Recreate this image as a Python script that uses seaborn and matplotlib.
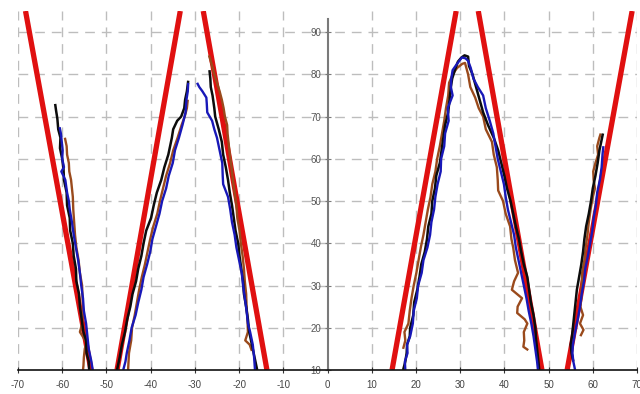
import numpy as np
import pandas as pd
import matplotlib
matplotlib.use("Agg")
import matplotlib.pyplot as plt
import seaborn as sns

# ---------------- data (x, y) ----------------
x_ticks = [-70, -60, -50, -40, -30, -20, -10, 0, 10, 20, 30, 40, 50, 60, 70]
y_ticks = [10, 20, 30, 40, 50, 60, 70, 80, 90]

# red reference lines: segment endpoints
red_1 = [(-68.3, 95), (-53.5, 10)]
red_2 = [(-47.6, 10), (-33.3, 95)]
red_3 = [(-28.1, 95), (-13.7, 10)]
red_4 = [(14.6, 10), (29.1, 95)]
red_5 = [(34.1, 95), (48.5, 10)]
red_6 = [(54.2, 10), (68.9, 95)]

black_a = [(-61.6, 73), (-61.4, 71.5), (-61.1, 69.5), (-60.9, 67), (-60.4, 65), (-60.5, 62.5),
           (-60.0, 60), (-59.7, 57.5), (-59.6, 55), (-59.0, 52), (-58.9, 49), (-58.3, 46),
           (-58.2, 43), (-57.6, 40), (-57.4, 37), (-56.9, 34), (-56.8, 31), (-56.2, 28),
           (-56.0, 25), (-55.6, 22), (-55.2, 19), (-54.6, 17), (-54.5, 14), (-54.0, 12), (-53.9, 10)]
black_b = [(-47.6, 10), (-47.0, 13), (-46.5, 16), (-45.8, 19), (-45.3, 22), (-44.6, 25),
           (-44.1, 28), (-43.3, 31), (-42.8, 34), (-42.1, 37), (-41.6, 40), (-41.0, 43),
           (-39.9, 46), (-39.3, 49), (-38.6, 52), (-37.6, 55), (-36.9, 58), (-36.0, 61),
           (-35.6, 63), (-35.2, 65), (-34.9, 67), (-34.0, 69), (-33.1, 70), (-32.4, 72),
           (-32.2, 74), (-31.8, 76), (-31.5, 78.5)]
black_c = [(-26.7, 81), (-26.5, 79), (-26.4, 77), (-26.0, 75), (-25.6, 72), (-25.4, 70),
           (-24.6, 67), (-23.9, 64), (-23.6, 61), (-23.0, 58), (-22.5, 55), (-22.1, 52),
           (-21.6, 49), (-21.2, 46), (-20.8, 43), (-20.2, 40), (-19.9, 37), (-19.5, 34),
           (-19.1, 31), (-18.9, 28), (-18.4, 25), (-18.0, 22), (-17.7, 19), (-17.1, 16),
           (-16.5, 13), (-15.9, 10)]
black_d = [(17.1, 10), (17.6, 12), (17.9, 14), (18.0, 16), (18.6, 18), (18.7, 20), (19.4, 23),
           (19.6, 26), (20.3, 29), (20.8, 32), (21.2, 35), (22.0, 38), (22.5, 41), (22.8, 44),
           (23.5, 47), (23.7, 50), (24.3, 53), (24.6, 56), (25.4, 59), (25.8, 62), (26.2, 65),
           (26.6, 68), (27.3, 71), (27.6, 74), (27.9, 77), (28.2, 79), (28.8, 81), (29.5, 83),
           (30.3, 84), (31.0, 84.5), (31.8, 84.2), (32.0, 82), (32.8, 80), (33.6, 77),
           (34.4, 74), (35.2, 71), (36.3, 68), (37.6, 65), (38.6, 62), (39.3, 59), (40.0, 56),
           (40.6, 53), (41.4, 50), (42.0, 47), (42.6, 44), (43.3, 41), (43.8, 38), (44.4, 35),
           (45.2, 32), (45.6, 29), (46.0, 26), (46.6, 23), (47.0, 20), (47.2, 17), (47.5, 14),
           (47.7, 12), (47.9, 10)]
black_f = [(55.6, 12), (55.2, 14), (55.0, 16), (55.3, 18), (55.5, 20), (55.8, 23), (56.1, 26),
           (56.4, 29), (56.9, 32), (57.4, 35), (57.8, 38), (58.1, 41), (58.5, 44), (59.1, 47),
           (59.6, 50), (60.0, 53), (60.6, 56), (61.1, 59), (61.5, 62), (61.9, 64), (62.3, 66)]

blue_a = [(-60.6, 67.5), (-60.3, 66), (-60.1, 64), (-59.9, 62), (-60.0, 60), (-59.6, 58),
          (-60.2, 57), (-59.3, 55), (-58.9, 52), (-58.5, 50), (-58.3, 48), (-57.8, 45),
          (-57.4, 42), (-56.9, 39), (-56.4, 36), (-56.0, 33), (-55.7, 30), (-55.3, 27),
          (-55.1, 24), (-54.6, 21), (-54.3, 18), (-54.0, 15), (-53.4, 12), (-53.1, 10)]
blue_b = [(-46.2, 10), (-45.7, 12), (-45.4, 14), (-44.8, 17), (-44.3, 20), (-43.4, 23),
          (-42.8, 26), (-42.1, 29), (-41.6, 32), (-40.8, 35), (-40.1, 38), (-39.6, 41),
          (-38.8, 44), (-38.0, 47), (-37.4, 50), (-36.5, 53), (-35.9, 56), (-35.0, 59),
          (-34.5, 62), (-33.6, 65), (-32.8, 68), (-32.1, 71), (-31.9, 74), (-31.6, 76), (-31.5, 78)]
blue_c = [(-29.5, 78), (-29.0, 77), (-28.3, 76), (-27.4, 74.5), (-27.3, 73), (-27.2, 71),
          (-26.1, 69), (-25.6, 67), (-25.0, 65), (-24.4, 62), (-23.8, 59), (-23.7, 56),
          (-23.6, 54), (-22.5, 51), (-22.0, 48), (-21.6, 45), (-21.0, 42), (-20.6, 39),
          (-20.0, 36), (-19.4, 33), (-19.1, 30), (-18.7, 27), (-18.3, 24), (-18.0, 21),
          (-17.5, 19), (-16.9, 16), (-16.6, 13), (-16.4, 10)]
blue_d = [(17.6, 10), (17.5, 12), (18.1, 14), (18.0, 16), (18.7, 18), (19.3, 21), (19.5, 24),
          (20.2, 27), (20.5, 30), (21.3, 33), (21.7, 36), (22.6, 39), (23.2, 42), (23.5, 45),
          (24.1, 48), (24.4, 51), (24.9, 54), (25.6, 57), (25.7, 60), (26.4, 63), (26.6, 66),
          (27.4, 69), (27.2, 72), (28.3, 75), (27.9, 77), (28.0, 79), (28.3, 81), (29.3, 82.5),
          (30.4, 84), (31.2, 83.8), (31.8, 83.2), (32.4, 81.5), (33.0, 79), (34.0, 77),
          (35.2, 75), (35.8, 72), (36.7, 69), (37.5, 66), (38.0, 63), (38.5, 60), (39.2, 57),
          (39.9, 54), (40.3, 51), (40.8, 48), (41.5, 45), (42.2, 42), (42.6, 39), (43.2, 36),
          (43.8, 33), (44.4, 30), (45.0, 27), (45.5, 24), (46.1, 21), (46.6, 18), (47.0, 15),
          (47.4, 12), (47.6, 10)]
blue_f = [(56.0, 10), (55.6, 12), (55.4, 14), (55.5, 16), (56.0, 19), (56.6, 22), (57.1, 25),
          (57.5, 28), (58.0, 31), (58.3, 34), (58.9, 37), (59.4, 40), (59.9, 43), (60.2, 46),
          (60.7, 49), (61.0, 52), (61.6, 55), (62.0, 58), (62.2, 61), (62.4, 63)]

brown_a = [(-59.4, 65), (-59.0, 63), (-58.9, 61), (-58.5, 59), (-58.4, 57), (-58.0, 55),
           (-57.8, 53), (-57.6, 51), (-57.5, 48), (-57.3, 45), (-57.1, 42), (-56.8, 39),
           (-56.3, 36), (-56.0, 33), (-55.5, 30), (-55.4, 27), (-55.3, 24), (-55.5, 21),
           (-56.0, 19), (-55.4, 18), (-54.5, 16.5), (-54.9, 15), (-55.1, 13), (-55.2, 11), (-55.3, 10)]
brown_b = [(-45.1, 10), (-45.0, 12), (-44.9, 14), (-44.4, 17), (-44.2, 20), (-43.6, 23),
           (-43.1, 26), (-42.6, 29), (-42.0, 32), (-41.3, 35), (-40.7, 38), (-40.1, 41),
           (-39.4, 44), (-38.5, 47), (-37.9, 50), (-37.2, 53), (-36.5, 56), (-35.6, 59),
           (-34.9, 62), (-33.9, 65), (-33.0, 68), (-32.3, 70), (-31.8, 72), (-31.6, 74)]
brown_c = [(-26.8, 84.5), (-26.1, 82), (-25.6, 80), (-25.0, 78), (-24.4, 76), (-23.9, 74),
           (-23.5, 72), (-23.2, 70), (-22.7, 68), (-22.6, 66), (-22.4, 64), (-22.1, 61),
           (-21.7, 58), (-21.4, 55), (-21.0, 52), (-20.6, 49), (-20.4, 46), (-19.9, 43),
           (-19.6, 40), (-19.2, 37), (-18.9, 34), (-18.7, 31), (-18.4, 28), (-18.3, 25),
           (-18.1, 22), (-18.0, 19), (-18.6, 17), (-17.6, 16), (-17.1, 14.5)]
brown_d = [(17.1, 15), (17.6, 17), (17.4, 19), (18.3, 21), (18.6, 24), (19.0, 27), (19.5, 30),
           (20.1, 33), (20.6, 36), (21.1, 39), (21.7, 42), (22.2, 45), (22.7, 48), (23.3, 51),
           (23.7, 54), (24.4, 57), (24.8, 60), (25.4, 63), (25.9, 66), (26.4, 69), (26.8, 72),
           (27.3, 75), (27.5, 78), (28.3, 80), (29.3, 81.5), (30.5, 82.5), (31.1, 82.7),
           (31.8, 80), (32.3, 77), (33.4, 74.5), (34.2, 72), (35.2, 70), (35.8, 67), (37.2, 64),
           (37.6, 61), (38.3, 58), (38.5, 55), (38.6, 52.5), (39.7, 50), (40.3, 47), (41.3, 44),
           (41.6, 41), (42.0, 39), (42.4, 36), (43.1, 33), (42.2, 31), (41.7, 29), (44.0, 27),
           (43.0, 25), (42.9, 23.5), (44.6, 22), (45.2, 21), (44.4, 19), (44.5, 17), (44.3, 15.5),
           (45.4, 14.7)]
brown_f = [(57.2, 18), (57.9, 19.5), (57.1, 21), (57.8, 23), (57.2, 25), (57.4, 27), (57.5, 30),
           (57.6, 33), (58.1, 36), (58.4, 39), (58.8, 42), (59.1, 45), (59.5, 48), (60.0, 51),
           (60.5, 53), (60.2, 55), (60.1, 57), (60.6, 59), (61.2, 61), (61.0, 63), (61.5, 65),
           (61.8, 66)]

series = {
    "red": [red_1, red_2, red_3, red_4, red_5, red_6],
    "brown": [brown_a, brown_b, brown_c, brown_d, brown_f],
    "black": [black_a, black_b, black_c, black_d, black_f],
    "blue": [blue_a, blue_b, blue_c, blue_d, blue_f],
}
colors = {"red": "#e01010", "brown": "#9a4a1c", "black": "#0c0c0c", "blue": "#1818b8"}
widths = {"red": 3.8, "brown": 1.7, "black": 1.8, "blue": 1.7}


def to_frame(segs):
    rows = []
    for i, seg in enumerate(segs):
        for k, (x, y) in enumerate(seg):
            rows.append({"x": x, "y": y, "seg": i, "order": k})
    return pd.DataFrame(rows)


sns.set_style("white")
plt.rcParams["font.family"] = ["Liberation Sans", "DejaVu Sans"]
plt.rcParams["axes.unicode_minus"] = False

fig = plt.figure(figsize=(6.4, 3.94), dpi=100)
ax = fig.add_axes([18 / 640, 24 / 394, 619 / 640, 359 / 394])

# grid lines
for gx in x_ticks:
    if gx != 0:
        ax.axvline(gx, color="#bdbdbd", lw=1.0, ls=(0, (7, 5)), zorder=0)
for gy in y_ticks[1:]:
    ax.axhline(gy, color="#bdbdbd", lw=1.0, ls=(0, (7, 5)), zorder=0)

for name in ["red", "brown", "black", "blue"]:
    df = to_frame(series[name])
    sns.lineplot(data=df, x="x", y="y", units="seg", estimator=None, sort=False,
                 color=colors[name], lw=widths[name], ax=ax, legend=False,
                 solid_capstyle="butt", zorder=3)

ax.set_xlim(-70, 70)
ax.set_ylim(10, 95)
ax.set_xlabel("")
ax.set_ylabel("")

for s in ["top", "right"]:
    ax.spines[s].set_visible(False)
ax.spines["left"].set_position(("data", 0))
ax.spines["left"].set_bounds(10, 93)
ax.spines["left"].set_color("#7a7a7a")
ax.spines["left"].set_linewidth(1.5)
ax.spines["left"].set_zorder(5)
ax.spines["bottom"].set_color("#111111")
ax.spines["bottom"].set_linewidth(1.2)
ax.spines["bottom"].set_zorder(5)

ax.set_xticks(x_ticks)
ax.set_xticklabels([str(t) for t in x_ticks])
ax.set_yticks(y_ticks)
ax.set_yticklabels([str(t) for t in y_ticks])
ax.tick_params(axis="x", direction="inout", length=5, width=0.8, colors="#333333",
               labelsize=7, labelcolor="#444444", pad=5, bottom=True)
ax.tick_params(axis="y", direction="inout", length=5, width=0.8, colors="#7a7a7a",
               labelsize=7, labelcolor="#555555", pad=2, left=True)

fig.savefig("out.png", dpi=100)
